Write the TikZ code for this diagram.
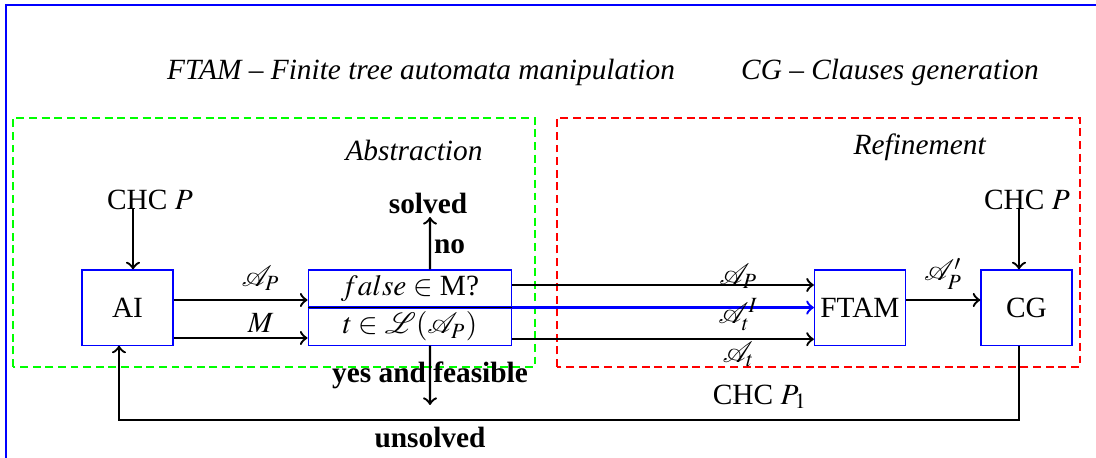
\documentclass[tikz,border=0pt]{standalone}
\usepackage{mathptmx}
\usepackage{mathrsfs}
\usepackage{fontspec}
\setmainfont{Liberation Serif}
\usetikzlibrary{positioning,calc}

\begin{document}
\begin{tikzpicture}[thick, >=to,
    main/.style = {draw=blue, thin, inner sep=1pt, minimum width=1.09cm, minimum height=0.9cm},
    half/.style = {draw=blue, thin, minimum width=2.44cm, minimum height=0.443cm, inner sep=0pt},
    zone/.style = {thick, dash pattern=on 2.7pt off 1.6pt}]
\useasboundingbox (0,0) rectangle (13.126,5.485);
\draw[blue, line width=0.7pt] (13.4,5.43) -- (0.07,5.43) -- (0.07,-0.008) -- (13.4,-0.008);

% headings and the two phases
\node (t1) at (5.042,4.623) {\textit{FTAM -- Finite tree automata manipulation}};
\node (t2) at (10.659,4.623) {\textit{CG -- Clauses generation}};
\draw[green, zone] (0.156,1.090) rectangle (6.407,4.072);
\draw[red, zone] (6.671,1.090) rectangle (12.934,4.072);
\node (abs) at (4.958,3.677) {\textit{Abstraction}};
\node (ref) at (11.018,3.725) {\textit{Refinement}};

% boxes
\node[main] (ai) at (1.527,1.802) {AI};
\node[half] (q1) at (4.910,2.030) {$false \in$ M?};
\node[half, below=0pt of q1] (q2) {$t \in \mathscr{L}(\mathscr{A}_P)$};
\draw[thin] (q1.south west) -- (q1.south east);
\node[main] (ftam) at (10.299,1.802) {FTAM};
\node[main] (cg) at (12.293,1.802) {CG};

% inputs
\node (p0) at (1.796,3.09) {CHC $P$};
\coordinate (p0a) at (1.593,2.982);
\draw[->] (p0a) -- (p0a |- ai.north);
\node (p2) at (12.299,3.09) {CHC $P$};
\coordinate (p2a) at (12.204,2.982);
\draw[->] (p2a) -- (p2a |- cg.north);

% AI to the check
\coordinate (a1) at ($(ai.east)+(0,0.09)$);
\coordinate (a2) at ($(ai.east)+(0,-0.365)$);
\draw[->] (a1) -- node[pos=0.65, yshift=0.263cm] {$\mathscr{A}_P$} (a1 -| q1.west);
\draw[->] (a2) -- node[pos=0.65, yshift=0.18cm] {$M$} (a2 -| q2.west);

% check to FTAM
\coordinate (b1) at ($(q1.east)+(0,0.042)$);
\coordinate (b2) at (q1.south east);
\coordinate (b3) at ($(q2.east)+(0,-0.15)$);
\draw[->] (b1) -- node[pos=0.75, yshift=0.108cm] {$\mathscr{A}_P$} (b1 -| ftam.west);
\draw[->, blue] (b2) -- node[pos=0.75, yshift=-0.084cm, black] {$\mathscr{A}_t^I$} (b2 -| ftam.west);
\draw[->] (b3) -- node[pos=0.75, yshift=-0.18cm] {$\mathscr{A}_t$} (b3 -| ftam.west);

% FTAM to CG
\coordinate (c1) at ($(ftam.east)+(0,0.09)$);
\draw[->] (c1) -- node[above] {$\mathscr{A}'_P$} (c1 -| cg.west);

% outcomes of the check
\node (sol) at (5.126,3.054) {\textbf{solved}};
\coordinate (s0) at ($(q1.north)+(0.24,0)$);
\coordinate (s1) at (5.150,2.886);
\draw[->] (s0) -- node[right, inner sep=1pt, yshift=-0.04cm] {\textbf{no}} (s1);
\coordinate (d0) at ($(q2.south)+(0.24,0)$);
\coordinate (d1) at (5.150,0.635);
\draw[->] (d0) -- node {\textbf{yes and feasible}} (d1);

% back to AI
\coordinate (fb) at (1.425,0.455);
\draw[->] (cg.south -| p2a) |- (fb) -- (fb |- ai.south);
\node (p1) at (9.102,0.731) {CHC $P_1$};
\node (uns) at (5.150,0.251) {\textbf{unsolved}};
\end{tikzpicture}
\end{document}
